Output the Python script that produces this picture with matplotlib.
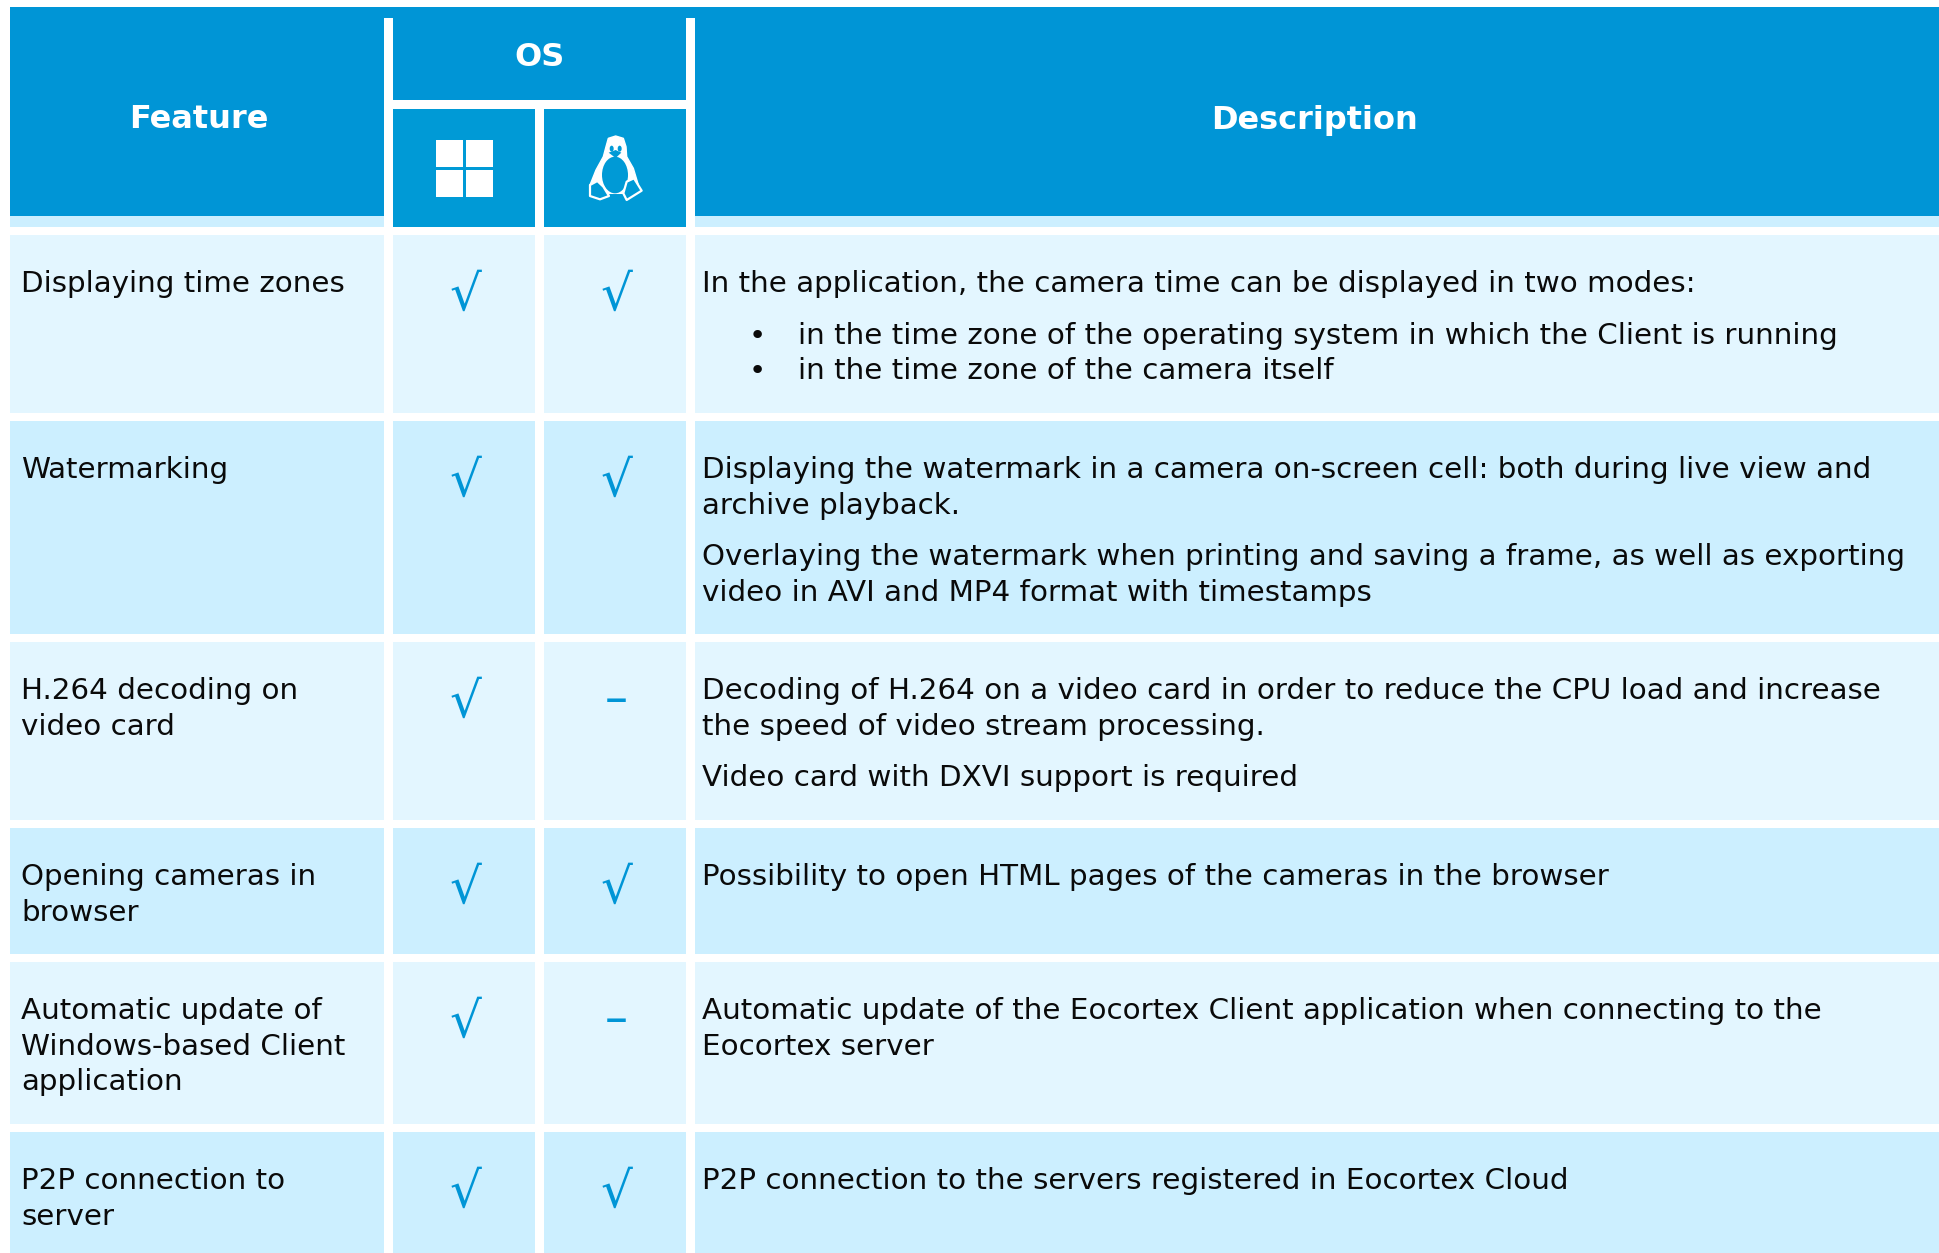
import matplotlib
matplotlib.use('Agg')
import matplotlib.pyplot as plt
from matplotlib.patches import Rectangle, Ellipse, Polygon

# Table content
features = [
    ['Displaying time zones'],
    ['Watermarking'],
    ['H.264 decoding on', 'video card'],
    ['Opening cameras in', 'browser'],
    ['Automatic update of', 'Windows-based Client', 'application'],
    ['P2P connection to', 'server'],
]
windows_support = ['√', '√', '√', '√', '√', '√']
linux_support = ['√', '√', '–', '√', '–', '√']
descriptions = [
    [['In the application, the camera time can be displayed in two modes:'],
     ['• in the time zone of the operating system in which the Client is running',
      '• in the time zone of the camera itself']],
    [['Displaying the watermark in a camera on-screen cell: both during live view and',
      'archive playback.'],
     ['Overlaying the watermark when printing and saving a frame, as well as exporting',
      'video in AVI and MP4 format with timestamps']],
    [['Decoding of H.264 on a video card in order to reduce the CPU load and increase',
      'the speed of video stream processing.'],
     ['Video card with DXVI support is required']],
    [['Possibility to open HTML pages of the cameras in the browser']],
    [['Automatic update of the Eocortex Client application when connecting to the',
      'Eocortex server']],
    [['P2P connection to the servers registered in Eocortex Cloud']],
]
header_feature = 'Feature'
header_os = 'OS'
header_description = 'Description'

# Row tops and bottoms, px
row_top = [235, 421, 642, 828, 962, 1132]
row_bottom = [413, 634, 820, 954, 1124, 1253]
columns = [(10, 384), (393, 535), (544, 686), (695, 1940)]

BLUE = '#0095d6'
BLUE_SUB = '#009ad6'
LIGHT = '#e3f6ff'
MID = '#ccefff'
TEXT = '#0a0a0a'
FS = 21.2
LINE = 35.7
PARA = 16

fig = plt.figure(figsize=(19.4, 12.53), dpi=100)
ax = fig.add_axes([0, 0, 1, 1])
ax.set_xlim(0, 1940)
ax.set_ylim(1253, 0)
ax.axis('off')


def cell(x0, y0, x1, y1, color):
    ax.add_patch(Rectangle((x0, y0), x1 - x0, y1 - y0, facecolor=color, edgecolor='none'))


# Header
cell(10, 7, 1940, 227, MID)
cell(10, 7, 1940, 216, BLUE)
cell(384, 18, 695, 235, 'white')
cell(393, 7, 686, 100, BLUE)
cell(393, 109, 535, 227, BLUE_SUB)
cell(544, 109, 686, 227, BLUE_SUB)

ax.text(199, 120, header_feature, color='white', fontsize=23, fontweight='bold', ha='center', va='center')
ax.text(540, 57, header_os, color='white', fontsize=23, fontweight='bold', ha='center', va='center')
ax.text(1315, 120, header_description, color='white', fontsize=23, fontweight='bold', ha='center', va='center')

# Windows icon
for ix, iy in [(436, 140), (466, 140), (436, 170), (466, 170)]:
    cell(ix, iy, ix + 27, iy + 27, 'white')


# Linux icon, coordinates taken in a 3x crop
def z(pts):
    return [(370 + px / 3, py / 3) for px, py in pts]


ax.add_patch(Polygon(z([(737, 408), (760, 415), (768, 440), (770, 470), (790, 505), (805, 555),
                        (775, 540), (760, 580), (700, 580), (690, 560), (660, 555), (678, 510),
                        (700, 470), (708, 440), (715, 415)]),
                     closed=True, facecolor='white', edgecolor='white', linewidth=1, joinstyle='round'))
ax.add_patch(Ellipse((370 + 735 / 3, 525 / 3), 78 / 3, 110 / 3, facecolor=BLUE_SUB, edgecolor='none'))
ax.add_patch(Polygon(z([(660, 555), (682, 543), (700, 560), (717, 588), (690, 598), (660, 588)]),
                     closed=True, facecolor=BLUE_SUB, edgecolor='white', linewidth=1.6, joinstyle='round'))
ax.add_patch(Polygon(z([(770, 545), (792, 535), (815, 572), (770, 600), (760, 580)]),
                     closed=True, facecolor=BLUE_SUB, edgecolor='white', linewidth=1.6, joinstyle='round'))
ax.add_patch(Polygon(z([(716, 458), (737, 450), (754, 458), (737, 474)]),
                     closed=True, facecolor=BLUE_SUB, edgecolor='none'))
for ex in (725, 749):
    ax.add_patch(Ellipse((370 + ex / 3, 446 / 3), 4, 6, facecolor=BLUE_SUB, edgecolor='none'))

# Body rows
for i in range(len(features)):
    color = LIGHT if i % 2 == 0 else MID
    for x0, x1 in columns:
        cell(x0, row_top[i], x1, row_bottom[i], color)

    base = row_top[i] + 57
    for j, line in enumerate(features[i]):
        ax.text(21, base + j * LINE, line, color=TEXT, fontsize=FS, ha='left', va='baseline')

    for sign, cx in [(windows_support[i], 465), (linux_support[i], 616)]:
        if sign == '√':
            ax.text(cx, row_top[i] + 75, sign, color=BLUE, fontsize=36, ha='center', va='baseline')
        else:
            ax.text(cx, row_top[i] + 58, sign, color=BLUE, fontsize=33, ha='center', va='center')

    y = base
    for paragraph in descriptions[i]:
        for line in paragraph:
            if line.startswith('• '):
                ax.text(757, y, '•', color=TEXT, fontsize=FS, ha='center', va='baseline')
                ax.text(798, y, line[2:], color=TEXT, fontsize=FS, ha='left', va='baseline')
            else:
                ax.text(702, y, line, color=TEXT, fontsize=FS, ha='left', va='baseline')
            y += LINE
        y += PARA

fig.savefig('out.png', dpi=100, facecolor='white')
